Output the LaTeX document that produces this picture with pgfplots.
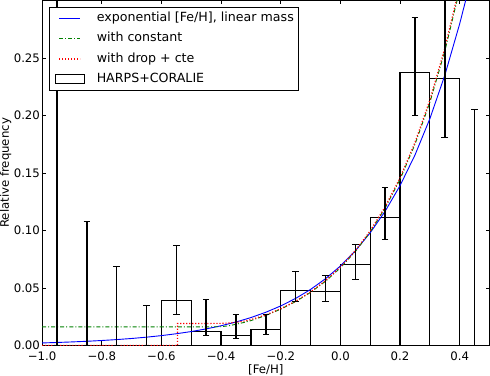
\documentclass[border=0pt]{standalone}
\usepackage{fontspec}
\setmainfont{DejaVu Sans}
\usepackage{pgfplots}
\pgfplotsset{compat=1.18}
\definecolor{mplgreen}{rgb}{0,0.5,0}
\definecolor{mplred}{rgb}{1,0,0}

\begin{document}
\begin{tikzpicture}
\begin{axis}[
  scale only axis, width=445bp, height=343bp,
  xmin=-1, xmax=0.5, ymin=0, ymax=0.3,
  xtick={-1,-0.8,-0.6,-0.4,-0.2,0,0.2,0.4},
  xticklabels={−1.0,−0.8,−0.6,−0.4,−0.2,0.0,0.2,0.4},
  ytick={0,0.05,0.1,0.15,0.2,0.25},
  yticklabels={0.00,0.05,0.10,0.15,0.20,0.25},
  scaled ticks=false,
  tick align=inside, tick pos=both, major tick length=4bp,
  minor tick num=0,
  every tick/.style={black, line width=0.6bp},
  axis line style={line width=0.9bp},
  tick label style={font=\fontsize{11.7}{13}\selectfont},
  yticklabel style={inner xsep=2bp},
  xticklabel style={anchor=north, inner sep=0pt, yshift=-6.5bp},
  label style={font=\fontsize{11.7}{13}\selectfont},
  xlabel={[Fe/H]}, ylabel={Relative frequency},
  xlabel style={at={(axis description cs:0.5,-0.0816)}, anchor=base, inner sep=0pt},
  ylabel style={at={(axis description cs:-0.0742,0.5)}, anchor=base, inner sep=0pt},
  legend cell align=left,
  legend style={at={(0,1)}, anchor=north west, xshift=7bp, yshift=-6.5bp,
    draw=black, line width=0.9bp, fill=white, inner xsep=5bp, inner ysep=4.5bp,
    row sep=8bp, font=\fontsize{12.6}{15}\selectfont,
    nodes={inner sep=0pt, text height=9.5bp, text depth=2.8bp},
    /tikz/every odd column/.append style={column sep=12bp}},
]
% histogram
\addplot[ybar interval, draw=black, fill=none, line width=1.2bp, forget plot] coordinates {
(-0.6,0.039) (-0.5,0.0122) (-0.4,0.0087) (-0.3,0.014) (-0.2,0.048) (-0.1,0.047)
(0.0,0.070) (0.1,0.111) (0.2,0.237) (0.3,0.232) (0.4,0.232)};

% exponential
\addplot[color=blue, draw=blue, line width=0.9bp,
  legend image code/.code={\path[draw=none,fill=none] (-4bp,-4.5bp) rectangle (25bp,4.5bp); \draw[draw=blue, line width=0.9bp] (0bp,0bp) -- (21bp,0bp);}]
coordinates {
(-1.0,0.00208) (-0.95,0.00248) (-0.9,0.00296) (-0.85,0.00352) (-0.8,0.00420)
(-0.75,0.00500) (-0.7,0.00595) (-0.65,0.00709) (-0.6,0.00845) (-0.55,0.01007)
(-0.5,0.01199) (-0.45,0.01428) (-0.4,0.01702) (-0.35,0.02027) (-0.3,0.02414)
(-0.25,0.02876) (-0.2,0.03427) (-0.15,0.04082) (-0.1,0.04862) (-0.05,0.05793)
(0.0,0.0690) (0.05,0.08219) (0.1,0.09792) (0.15,0.11664) (0.2,0.13895)
(0.25,0.16552) (0.3,0.19717) (0.35,0.23488) (0.4,0.2798) (0.42,0.3001) (0.43,0.3108)};
\addlegendentry{exponential [Fe/H], linear mass}

% with constant
\addplot[color=mplgreen, draw=mplgreen, line width=0.9bp, dash pattern=on 4bp off 2bp on 1bp off 2bp,
  legend image code/.code={\path[draw=none,fill=none] (-4bp,-4.5bp) rectangle (25bp,4.5bp); \draw[draw=mplgreen, line width=0.9bp, dash pattern=on 4bp off 2bp on 1bp off 2bp] (0bp,0bp) -- (21bp,0bp);}]
coordinates {
(-1.0,0.016) (-0.8,0.016) (-0.6,0.016) (-0.45,0.016) (-0.4,0.0162) (-0.375,0.0170)
(-0.35,0.0183) (-0.325,0.0198) (-0.3,0.0215) (-0.25,0.0260) (-0.2,0.03146)
(-0.15,0.03806) (-0.1,0.04605) (-0.05,0.0557) (0.0,0.0674) (0.05,0.08155)
(0.1,0.09865) (0.15,0.1194) (0.2,0.1444) (0.25,0.1748) (0.3,0.2114)
(0.35,0.2558) (0.4,0.3095) (0.41,0.3200)};
\addlegendentry{with constant}

% with drop + cte
\addplot[color=mplred, draw=mplred, line width=1.1bp, dash pattern=on 1.2bp off 1.8bp,
  legend image code/.code={\path[draw=none,fill=none] (-4bp,-4.5bp) rectangle (25bp,4.5bp); \draw[draw=mplred, line width=1.1bp, dash pattern=on 1.2bp off 1.8bp] (0bp,0bp) -- (21bp,0bp);}]
coordinates {
(-1.0,0) (-0.546,0) (-0.546,0.019) (-0.45,0.019) (-0.4,0.0191) (-0.375,0.0194)
(-0.35,0.0200) (-0.325,0.0210) (-0.3,0.0224) (-0.25,0.0265) (-0.2,0.0318)
(-0.15,0.0384) (-0.1,0.0465) (-0.05,0.0563) (0.0,0.0681) (0.05,0.0824)
(0.1,0.0996) (0.15,0.1206) (0.2,0.1458) (0.25,0.1765) (0.3,0.2135)
(0.35,0.2584) (0.4,0.3126) (0.41,0.3230)};
\addlegendentry{with drop + cte}

% error bars
\addplot[draw=none, mark=none, forget plot,
  error bars/.cd, y dir=both, y explicit,
  error bar style={draw=black, line width=1.4bp},
  error mark options={draw=black, rotate=90, mark size=3.3bp, line width=0.7bp}]
coordinates {
(-0.95,0) += (0,0.31) -= (0,0)
(-0.85,0) += (0,0.108) -= (0,0)
(-0.75,0) += (0,0.069) -= (0,0)
(-0.65,0) += (0,0.035) -= (0,0)
(-0.55,0.039) += (0,0.048) -= (0,0.012)
(-0.45,0.0122) += (0,0.0275) -= (0,0.0035)
(-0.35,0.0087) += (0,0.0183) -= (0,0.0027)
(-0.25,0.014) += (0,0.013) -= (0,0.0044)
(-0.15,0.048) += (0,0.016) -= (0,0.010)
(-0.05,0.047) += (0,0.014) -= (0,0.009)
(0.05,0.070) += (0,0.018) -= (0,0.013)
(0.15,0.111) += (0,0.026) -= (0,0.019)
(0.25,0.237) += (0,0.048) -= (0,0.037)
(0.35,0.232) += (0,0.08) -= (0,0.051)
(0.45,0) += (0,0.205) -= (0,0)
};

\addlegendimage{legend image code/.code={\draw[black, line width=0.9bp, fill=white] (-4bp,-4.5bp) rectangle (25bp,4.5bp);}}
\addlegendentry{HARPS+CORALIE}
\end{axis}
\end{tikzpicture}
\end{document}
